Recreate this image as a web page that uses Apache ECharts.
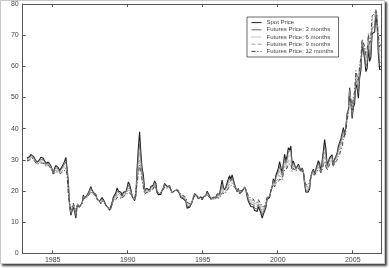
<!DOCTYPE html>
<html><head><meta charset="utf-8">
<script src="https://cdn.jsdelivr.net/npm/echarts@6/dist/echarts.min.js"></script>
<style>
html,body{margin:0;padding:0;background:#fff}
#c{position:absolute;left:0;top:0;width:389px;height:268px}
#f{position:absolute;left:0;top:0;width:385px;height:264px;box-sizing:border-box;border:1px solid #c8c8c8;box-shadow:2px 2px 2px rgba(0,0,0,.75);pointer-events:none}
</style>
</head><body><div id="c"></div><div id="f"></div>
<script>
// monthly observations, first one = April 1983, last = November 2006
const startYear = 1983.25;
const seriesNames = ['Spot Price','Futures Price: 3 months','Futures Price: 6 months','Futures Price: 9 months','Futures Price: 12 months'];
const xTicks = [1985,1990,1995,2000,2005];

const spot = [
30.6,30.0,31.0,31.7,31.9,31.1,30.4,29.8,29.2,
29.0,30.1,30.8,30.6,30.5,30.0,28.8,29.3,29.3,28.7,28.1,27.0,
25.6,27.3,28.2,28.0,27.5,26.6,26.9,27.8,28.3,29.5,30.8,27.2,
22.9,15.4,12.2,12.8,15.0,13.4,11.3,15.1,14.9,14.9,15.2,16.1,
18.7,17.7,18.3,18.6,19.4,20.0,21.4,20.3,19.5,19.8,18.9,17.3,
17.1,16.7,16.2,17.9,17.4,16.5,15.5,15.5,14.5,13.8,14.0,16.3,
18.0,17.8,19.4,21.0,20.0,20.0,19.6,18.5,19.6,20.1,19.8,21.1,
22.9,22.1,20.4,18.4,18.2,16.9,18.6,27.2,33.7,39.0,32.3,27.3,
25.2,20.5,19.9,20.8,21.2,20.2,21.4,21.7,21.9,23.2,22.5,19.5,
18.8,19.0,18.9,20.2,20.9,22.4,21.8,21.4,21.9,21.7,20.3,19.4,
19.0,20.1,20.3,20.3,19.9,19.1,17.9,18.0,17.5,18.1,16.7,14.5,
15.0,14.8,14.7,16.4,17.9,19.1,19.7,18.4,17.5,17.7,18.1,17.2,
18.0,18.5,18.6,19.9,19.7,18.4,17.3,17.9,18.0,17.4,18.0,19.0,
18.9,19.1,21.3,23.5,21.2,20.4,21.3,21.9,23.9,24.9,23.7,25.2,
25.1,22.2,20.9,19.7,20.8,19.2,19.6,19.9,19.8,21.3,20.2,18.3,
16.7,16.1,15.0,15.4,14.9,13.7,14.2,13.4,15.0,14.4,12.9,11.3,
12.5,12.0,14.7,17.3,17.8,17.9,20.1,21.3,23.9,22.6,25.0,26.1,
27.3,29.4,29.9,25.7,28.8,31.8,29.7,31.3,33.9,33.1,34.4,28.5,
29.6,29.6,27.2,27.4,28.6,27.6,26.4,27.4,26.2,22.2,19.6,19.4,
19.7,20.7,24.5,26.2,27.0,25.5,26.9,28.4,29.7,28.9,26.3,29.4,
32.9,36.5,33.6,28.3,28.1,30.7,30.8,31.6,28.3,30.3,31.1,32.1,
34.3,34.7,36.7,36.7,40.3,38.0,40.7,44.9,45.9,53.1,48.5,43.3,
46.8,48.0,54.3,53.0,49.8,56.3,58.7,66.5,65.0,62.4,58.3,59.4,
65.5,61.6,62.9,70.5,70.9,71.0,76.5,73.1,63.8,58.9,59.1
];

const fut3 = [
30.3,29.9,30.7,31.3,31.5,30.8,30.1,29.6,29.1,
28.9,29.8,30.3,30.2,30.1,29.6,28.5,29.0,29.0,28.4,27.8,26.9,
25.6,26.8,27.5,27.4,27.0,26.2,26.6,27.4,27.8,28.6,29.4,26.6,
21.4,15.6,12.7,13.3,15.3,13.8,11.9,15.3,14.9,14.9,15.2,16.0,
18.4,17.6,18.1,18.4,19.2,19.8,21.0,20.0,19.3,19.6,18.8,17.4,
17.1,16.6,16.0,17.5,17.2,16.4,15.4,15.4,14.4,13.9,14.1,16.0,
17.5,17.3,18.8,19.9,19.3,19.3,19.0,18.2,19.3,19.8,19.6,20.6,
21.9,21.3,20.0,18.3,18.2,17.1,18.5,25.8,31.3,35.2,30.5,26.2,
23.9,20.0,19.6,20.4,20.8,20.1,21.1,21.4,21.6,22.8,22.2,19.5,
18.9,19.1,19.0,20.1,20.7,22.1,21.6,21.3,21.8,21.6,20.3,19.5,
19.2,20.1,20.3,20.3,20.0,19.2,18.1,18.2,17.8,18.4,17.0,14.9,
15.3,15.1,15.0,16.5,17.9,19.0,19.4,18.3,17.6,17.8,18.2,17.4,
18.1,18.5,18.5,19.6,19.4,18.2,17.4,17.8,17.8,17.4,17.9,18.7,
18.5,18.7,20.4,22.2,20.6,20.0,20.8,21.4,23.0,24.0,23.1,24.3,
24.4,22.0,20.8,19.8,20.7,19.4,19.8,20.0,20.0,21.2,20.3,18.6,
17.2,16.7,15.8,16.1,15.6,14.5,14.8,14.2,15.7,15.2,13.8,12.3,
13.3,12.8,15.2,17.6,18.0,18.2,20.2,21.2,23.5,22.4,24.5,25.2,
26.2,27.9,28.4,25.2,28.0,30.6,28.9,30.3,32.6,32.1,33.0,28.0,
29.1,29.0,27.1,27.4,28.3,27.4,26.4,27.2,26.3,22.6,20.2,19.9,
20.3,21.2,24.6,26.0,26.7,25.4,26.6,27.9,29.0,28.4,26.3,28.8,
31.8,34.4,31.8,27.9,27.9,30.2,30.4,31.1,28.3,30.0,30.8,31.6,
33.5,34.0,35.9,36.1,39.6,37.7,40.4,44.5,45.8,52.6,48.9,44.1,
47.9,49.2,55.6,54.6,51.3,57.5,59.8,67.2,66.1,63.6,59.8,61.0,
67.0,63.2,64.9,72.3,72.5,72.8,77.3,74.6,65.6,61.0,61.4
];

const fut6 = [
30.0,29.7,30.4,31.0,31.2,30.5,29.9,29.4,28.9,
28.8,29.5,29.9,29.8,29.7,29.3,28.3,28.7,28.7,28.2,27.6,26.8,
25.6,26.4,27.0,26.9,26.6,25.9,26.2,26.9,27.3,27.9,28.3,26.1,
20.3,15.8,13.2,13.7,15.6,14.2,12.5,15.5,15.0,15.0,15.3,15.9,
18.1,17.5,17.9,18.2,18.9,19.5,20.6,19.8,19.2,19.4,18.7,17.5,
17.1,16.6,15.9,17.2,17.0,16.3,15.4,15.3,14.4,14.1,14.3,15.8,
17.1,16.9,18.2,19.1,18.7,18.7,18.5,17.9,18.9,19.4,19.3,20.0,
21.0,20.6,19.6,18.2,18.2,17.3,18.4,24.4,29.0,32.4,28.9,25.2,
22.8,19.6,19.4,20.1,20.4,19.9,20.8,21.1,21.3,22.4,21.9,19.6,
19.0,19.2,19.1,20.0,20.5,21.8,21.4,21.2,21.6,21.5,20.4,19.6,
19.4,20.1,20.3,20.3,20.1,19.4,18.4,18.4,18.1,18.6,17.4,15.4,
15.6,15.4,15.3,16.6,17.8,18.8,19.1,18.2,17.7,17.9,18.2,17.6,
18.2,18.5,18.4,19.3,19.1,18.1,17.5,17.7,17.7,17.4,17.7,18.4,
18.1,18.3,19.6,21.0,20.1,19.7,20.3,20.9,22.2,23.1,22.5,23.4,
23.7,21.8,20.7,19.9,20.6,19.6,19.9,20.1,20.2,21.1,20.4,18.9,
17.7,17.3,16.5,16.8,16.3,15.3,15.4,15.0,16.3,15.9,14.6,13.3,
14.0,13.6,15.6,17.8,18.2,18.4,20.2,21.0,23.0,22.1,23.9,24.3,
25.0,26.4,27.0,24.6,27.2,29.3,28.1,29.3,31.2,31.0,31.5,27.4,
28.5,28.4,26.9,27.3,28.0,27.2,26.4,27.0,26.3,23.0,20.9,20.5,
20.9,21.7,24.6,25.8,26.4,25.3,26.3,27.4,28.3,27.8,26.2,28.1,
30.6,32.5,30.2,27.5,27.7,29.6,29.9,30.6,28.2,29.6,30.4,31.0,
32.6,33.2,35.0,35.4,38.8,37.4,40.0,44.0,45.6,52.0,49.2,44.9,
48.9,50.3,56.8,56.1,52.8,58.6,60.9,67.8,67.1,64.7,61.3,62.5,
68.4,64.7,66.8,73.9,74.0,74.4,77.6,76.0,67.3,63.0,63.5
];

const fut9 = [
29.8,29.5,30.1,30.7,30.9,30.3,29.7,29.2,28.7,
28.6,29.2,29.5,29.4,29.3,29.0,28.1,28.4,28.4,28.0,27.4,26.6,
25.5,26.1,26.6,26.5,26.2,25.6,25.9,26.5,26.8,27.3,27.4,25.7,
19.5,16.0,13.6,14.1,15.9,14.6,13.0,15.7,15.2,15.1,15.4,15.9,
17.8,17.4,17.7,18.0,18.7,19.2,20.2,19.6,19.0,19.2,18.6,17.6,
17.1,16.6,15.9,17.0,16.8,16.2,15.4,15.3,14.5,14.3,14.5,15.7,
16.8,16.6,17.7,18.5,18.2,18.2,18.1,17.7,18.5,19.0,19.0,19.5,
20.3,20.0,19.3,18.1,18.2,17.5,18.3,23.2,27.2,30.2,27.5,24.3,
21.9,19.3,19.2,19.8,20.1,19.8,20.5,20.8,21.0,22.0,21.6,19.6,
19.1,19.3,19.2,19.9,20.3,21.5,21.2,21.0,21.4,21.3,20.4,19.7,
19.6,20.1,20.3,20.3,20.1,19.5,18.6,18.6,18.3,18.8,17.7,15.9,
15.9,15.7,15.6,16.7,17.7,18.6,18.9,18.1,17.8,18.0,18.2,17.8,
18.2,18.4,18.3,19.0,18.9,18.0,17.5,17.6,17.6,17.4,17.6,18.1,
17.8,17.9,19.0,20.1,19.6,19.4,19.9,20.4,21.5,22.3,21.9,22.6,
23.0,21.5,20.6,20.0,20.5,19.8,20.0,20.2,20.3,21.0,20.5,19.2,
18.1,17.8,17.1,17.4,16.9,16.0,16.0,15.7,16.8,16.5,15.3,14.2,
14.6,14.3,16.0,17.9,18.3,18.5,20.1,20.7,22.5,21.7,23.2,23.4,
23.9,25.0,25.6,24.0,26.4,28.0,27.2,28.3,29.8,29.8,30.0,26.8,
27.9,27.8,26.6,27.1,27.6,27.0,26.3,26.8,26.2,23.3,21.5,21.1,
21.4,22.1,24.5,25.6,26.1,25.2,26.0,26.9,27.6,27.2,26.0,27.4,
29.4,30.8,28.9,27.0,27.4,29.0,29.4,30.1,28.0,29.2,29.9,30.5,
31.7,32.4,34.1,34.7,37.9,37.0,39.5,43.4,45.2,51.3,49.3,45.5,
49.7,51.2,57.8,57.3,54.1,59.5,61.8,68.3,68.0,65.7,62.6,63.8,
69.6,66.0,68.4,75.2,75.4,75.8,77.9,77.2,68.8,64.8,65.4
];

const fut12 = [
29.6,29.3,29.9,30.4,30.6,30.0,29.5,29.0,28.5,
28.4,28.9,29.1,29.0,29.0,28.7,27.9,28.2,28.2,27.8,27.2,26.4,
25.4,25.8,26.2,26.1,25.9,25.3,25.6,26.1,26.4,26.8,26.7,25.4,
18.9,16.2,14.0,14.4,16.1,14.9,13.4,15.9,15.3,15.2,15.5,15.9,
17.6,17.3,17.5,17.8,18.4,18.9,19.8,19.4,18.9,19.0,18.5,17.7,
17.1,16.6,15.9,16.8,16.7,16.1,15.4,15.3,14.6,14.5,14.7,15.6,
16.5,16.3,17.2,17.9,17.8,17.8,17.7,17.5,18.2,18.6,18.7,19.0,
19.6,19.5,19.0,18.0,18.2,17.6,18.2,22.2,25.6,28.3,26.3,23.5,
21.2,19.0,19.0,19.6,19.9,19.6,20.3,20.6,20.7,21.6,21.3,19.6,
19.2,19.4,19.3,19.8,20.1,21.2,21.0,20.9,21.2,21.2,20.4,19.8,
19.8,20.1,20.3,20.3,20.2,19.6,18.8,18.8,18.5,19.0,18.0,16.3,
16.2,16.0,15.9,16.8,17.6,18.4,18.7,18.0,17.8,18.0,18.2,17.9,
18.2,18.3,18.2,18.8,18.7,17.9,17.5,17.5,17.5,17.4,17.5,17.9,
17.6,17.6,18.5,19.4,19.1,19.1,19.5,20.0,20.9,21.6,21.4,21.9,
22.4,21.2,20.5,20.0,20.4,19.9,20.1,20.3,20.4,20.9,20.6,19.4,
18.5,18.2,17.6,17.9,17.4,16.6,16.6,16.3,17.2,17.0,15.9,15.0,
15.2,14.9,16.3,18.0,18.3,18.6,20.0,20.4,22.0,21.3,22.5,22.6,
23.0,23.8,24.4,23.4,25.6,26.9,26.3,27.3,28.6,28.7,28.7,26.2,
27.3,27.2,26.3,26.9,27.3,26.8,26.2,26.6,26.1,23.6,22.0,21.6,
21.9,22.5,24.4,25.4,25.8,25.1,25.7,26.5,27.0,26.7,25.8,26.8,
28.4,29.4,27.8,26.6,27.1,28.5,28.9,29.6,27.8,28.8,29.4,29.9,
30.9,31.6,33.2,34.0,37.0,36.5,39.0,42.8,44.8,50.5,49.2,45.9,
50.3,51.9,58.6,58.3,55.2,60.3,62.6,68.7,68.7,66.5,63.7,64.9,
70.6,67.1,69.7,76.2,76.6,77.0,78.2,78.1,70.0,66.3,67.1
];

const seriesData = [spot, fut3, fut6, fut9, fut12];
const lineColors = ['#1e1e1e','#6a6a6a','#8a8a8a','#a0a0a0','#3a3a3a'];
const lineTypes = ['solid','solid','dotted','dashed',[4,2,1,2]];
const lineWidths = [1.1,0.9,0.9,0.9,0.9];

function toPairs(arr){ return arr.map((v,i)=>[startYear + (i+0.5)/12, v]); }

const chart = echarts.init(document.getElementById('c'), null, {renderer:'canvas'});
const font = 'Liberation Sans, Arial, sans-serif';
const axisColor = '#555';
const tickCommon = {show:true, inside:true, length:3, lineStyle:{color:axisColor, width:1}};

chart.setOption({
  animation:false,
  backgroundColor:'#fff',
  textStyle:{fontFamily:font},
  grid:{left:22.7, right:7.3, top:4, bottom:14.7, containLabel:false, outerBoundsMode:'none'},
  legend:{
    data:seriesNames, orient:'vertical', left:247, top:17,
    itemWidth:10, itemHeight:6, itemGap:1.2,
    padding:[2.6,5,2.6,4],
    borderColor:'#444', borderWidth:0.8, backgroundColor:'#fff',
    itemStyle:{opacity:0},
    lineStyle:{width:1},
    textStyle:{fontSize:6, lineHeight:6, color:'#444', fontFamily:font}
  },
  xAxis:[
    {type:'value', min:1983, max:2006.93, position:'bottom',
     axisLine:{show:true, onZero:false, lineStyle:{color:axisColor, width:1}},
     axisTick:Object.assign({customValues:xTicks}, tickCommon),
     axisLabel:{customValues:xTicks, fontSize:7, color:'#444', margin:3, fontFamily:font,
                formatter:function(v){return String(Math.round(v));}},
     splitLine:{show:false}},
    {type:'value', min:1983, max:2006.93, position:'top',
     axisLine:{show:true, onZero:false, lineStyle:{color:axisColor, width:1}},
     axisTick:Object.assign({customValues:xTicks}, tickCommon),
     axisLabel:{show:false}, splitLine:{show:false}}
  ],
  yAxis:[
    {type:'value', min:0, max:80, interval:10, position:'left',
     name:'Dollars', nameLocation:'middle', nameGap:15,
     nameTextStyle:{fontSize:7, color:'#444', fontFamily:font},
     axisLine:{show:true, onZero:false, lineStyle:{color:axisColor, width:1}},
     axisTick:tickCommon,
     axisLabel:{fontSize:7, color:'#444', margin:4, fontFamily:font},
     splitLine:{show:false}},
    {type:'value', min:0, max:80, interval:10, position:'right',
     axisLine:{show:true, onZero:false, lineStyle:{color:axisColor, width:1}},
     axisTick:tickCommon, axisLabel:{show:false}, splitLine:{show:false}}
  ],
  series: seriesNames.map((name,k)=>({
    name:name, type:'line', xAxisIndex:0, yAxisIndex:0,
    data:toPairs(seriesData[k]),
    symbol:'none', showSymbol:false,
    lineStyle:{color:lineColors[k], width:lineWidths[k], type:lineTypes[k]},
    itemStyle:{color:lineColors[k]},
    emphasis:{disabled:true}
  }))
});
</script>
</body></html>
